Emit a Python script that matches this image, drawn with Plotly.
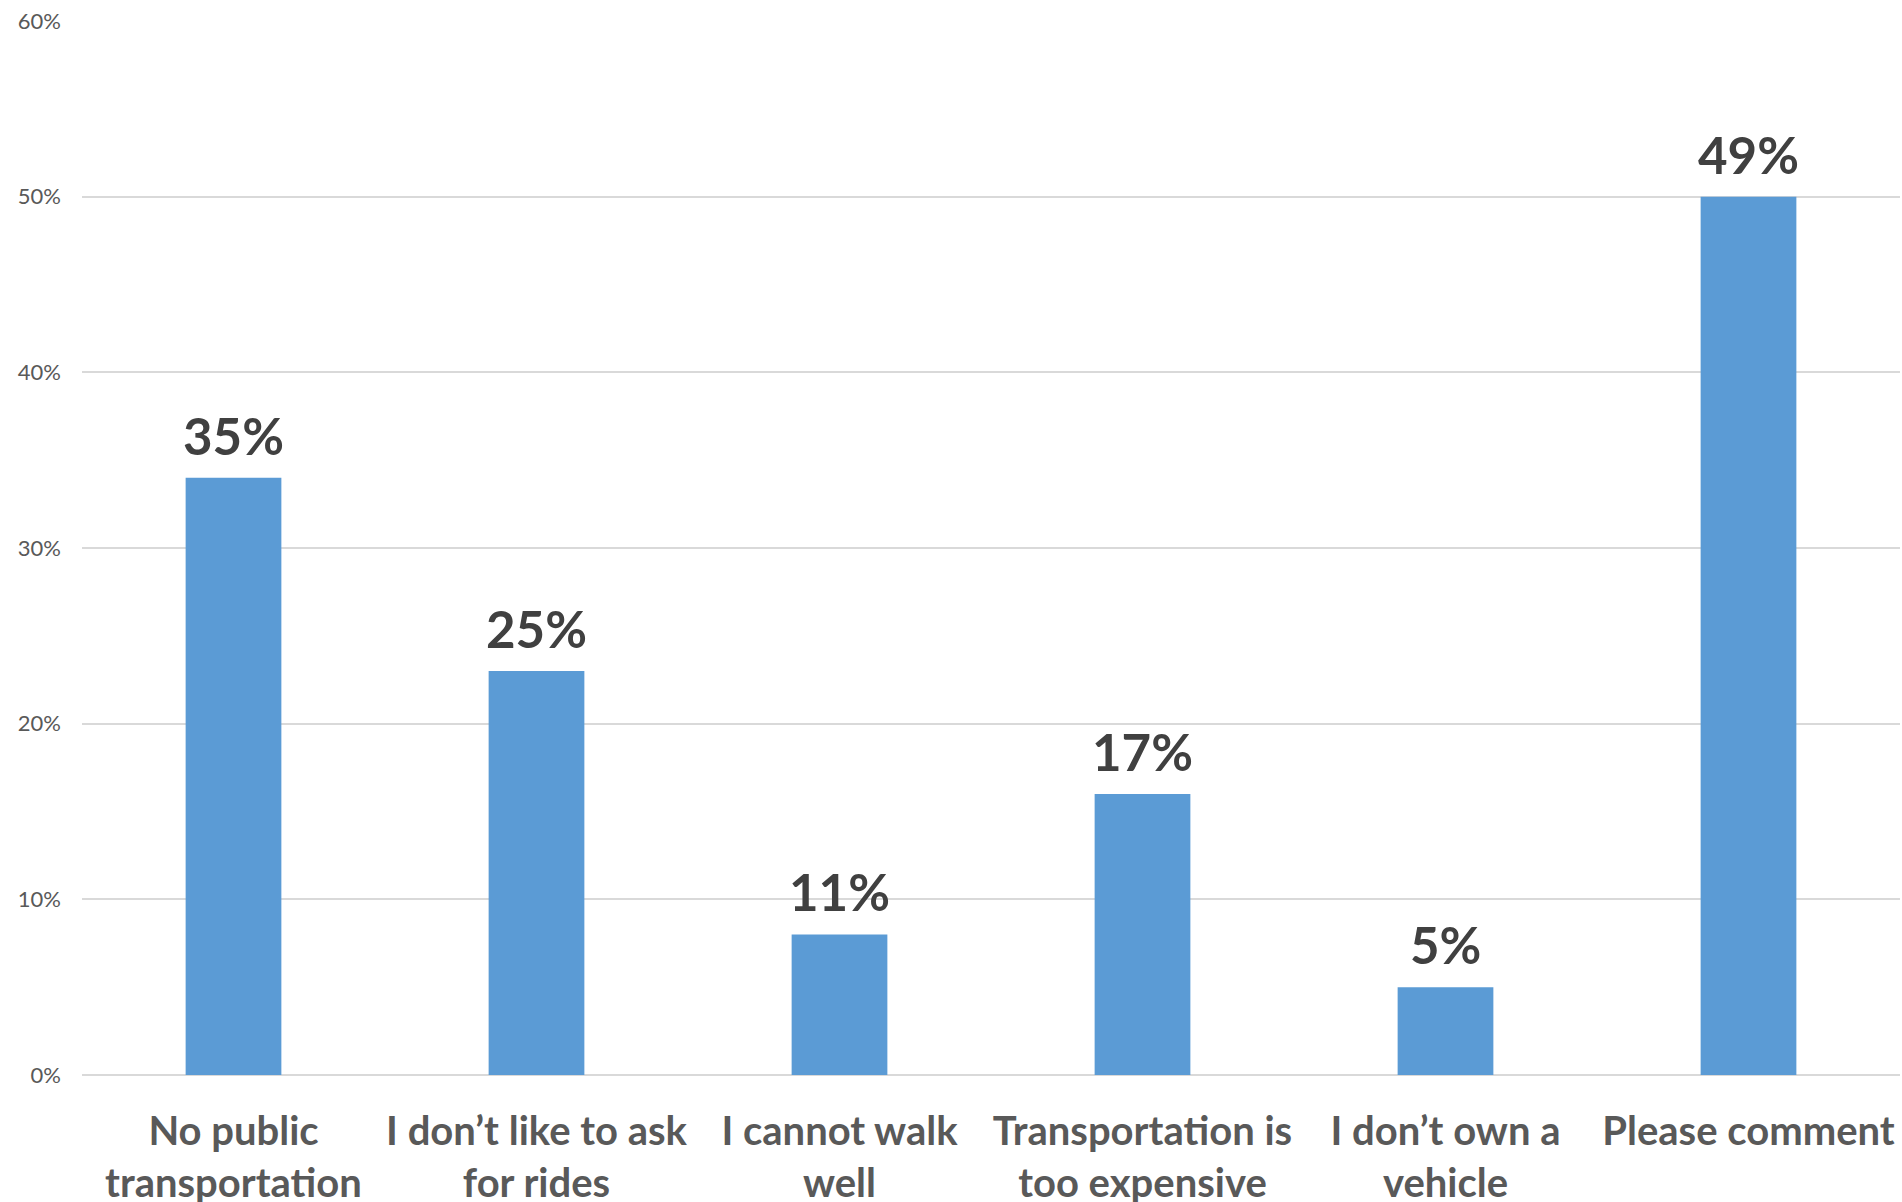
import plotly.graph_objects as go

categories = [
    "No public<br>transportation",
    "I don’t like to ask<br>for rides",
    "I cannot walk<br>well",
    "Transportation is<br>too expensive",
    "I don’t own a<br>vehicle",
    "Please comment",
]
bar_values = [34, 23, 8, 16, 5, 50]
label_texts = ["35%", "25%", "11%", "17%", "5%", "49%"]
y_ticks = [0, 10, 20, 30, 40, 50, 60]

fig = go.Figure(
    go.Bar(
        x=categories,
        y=bar_values,
        marker=dict(color="#5B9BD5", line=dict(width=0)),
        hoverinfo="skip",
    )
)

for cat, val, txt in zip(categories, bar_values, label_texts):
    fig.add_annotation(
        x=cat,
        y=val,
        text=txt,
        showarrow=False,
        yanchor="bottom",
        yshift=10,
        font=dict(family="Lato", size=51, color="#404040", weight="bold"),
    )

fig.update_layout(
    width=1902,
    height=1202,
    margin=dict(l=82, r=2, t=21, b=127, autoexpand=False),
    paper_bgcolor="white",
    plot_bgcolor="white",
    bargap=0.684,
    showlegend=False,
    font=dict(family="Lato"),
)

fig.update_xaxes(
    showgrid=False,
    showline=False,
    tickfont=dict(family="Lato", size=40, color="#595959", weight="bold"),
    ticklabelstandoff=29,
    zeroline=False,
    automargin=False,
)

fig.update_yaxes(
    range=[0, 60],
    tickvals=y_ticks,
    ticktext=[f"{v}%" for v in y_ticks],
    showgrid=True,
    gridcolor="#D9D9D9",
    gridwidth=2,
    zeroline=True,
    zerolinecolor="#D9D9D9",
    zerolinewidth=2,
    showline=False,
    tickfont=dict(family="Lato", size=22, color="#595959"),
    ticklabelstandoff=20,
    automargin=False,
)

fig.write_html(
    "out.html",
    config={"displayModeBar": False},
    post_script="document.body.style.margin='0';document.body.style.overflow='hidden';",
)
